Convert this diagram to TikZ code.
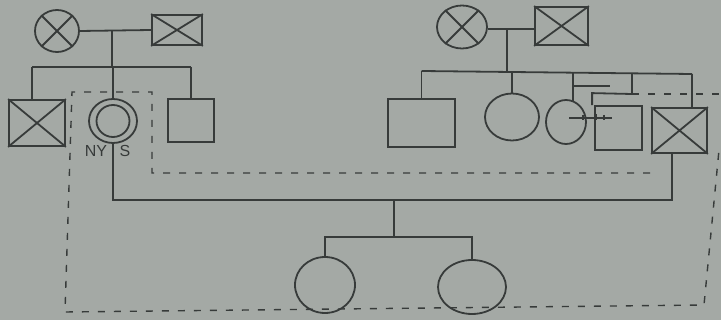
\documentclass[tikz,border=0pt]{standalone}
\usepackage{fontspec}
\setmainfont{Liberation Sans}
\usetikzlibrary{shapes.geometric}
\definecolor{paper}{RGB}{164,169,165}
\definecolor{ink}{RGB}{55,59,58}
\begin{document}
\begin{tikzpicture}[x=1pt,y=-1pt,
  ink/.style={draw=ink,line width=1.8pt},
  male/.style={ink,rectangle,inner sep=0pt,minimum width=#1},
  fem/.style={ink,ellipse,inner sep=0pt},
  dsh/.style={draw=ink,line width=1.4pt,dash pattern=on 7pt off 9pt},
  lab/.style={text=ink,font=\fontsize{16}{16}\selectfont,inner sep=0pt}]
\fill[paper] (0,0) rectangle (721,320);
\useasboundingbox (0,0) rectangle (721,320);

% ---------- left family ----------
\node[fem,minimum width=44pt,minimum height=42pt] (lgm) at (57,31) {};
\node[male=50pt,minimum height=30pt] (lgf) at (177,30) {};
\draw[ink] (lgm.45)--(lgm.225) (lgm.135)--(lgm.315);
\draw[ink] (lgf.north west)--(lgf.south east) (lgf.north east)--(lgf.south west);
\coordinate (lm) at (112,31);
\coordinate (ls) at (112,67);
\draw[ink] (lgm.east)--(lgf.west);
\draw[ink] (lm)--(ls);

\node[male=56pt,minimum height=46pt] (lc1) at (37,123) {};
\draw[ink] (lc1.north east)--(lc1.south west) (lc1.north west)--(lc1.south east);
\node[fem,minimum width=48pt,minimum height=44pt] (lc2) at (113,121) {};
\node[fem,minimum width=33pt,minimum height=32pt] (lc2i) at (113,121) {};
\node[male=46pt,minimum height=43pt] (lc3) at (191,120.5) {};
\coordinate (lsl) at (32,67);
\coordinate (lsr) at (191,67);
\draw[ink] (lsl)--(lsr);
\draw[ink] (lsl)--(lsl|-lc1.north);
\draw[ink] (lc2.north)--(lc2.north|-ls);
\draw[ink] (lsr)--(lc3.north);
\node[lab] (ny) at (96,151) {NY};
\node[lab] (s) at (125,151) {S};

% ---------- right family ----------
\node[fem,minimum width=50pt,minimum height=43pt] (rgm) at (462,27) {};
\node[male=53pt,minimum height=38pt] (rgf) at (561.5,26) {};
\draw[ink] (rgm.45)--(rgm.225) (rgm.135)--(rgm.315);
\draw[ink] (rgf.north west)--(rgf.south east) (rgf.north east)--(rgf.south west);
\draw[ink] (rgm.east|-0,29)--(rgf.west|-0,29);
\coordinate (rm) at (507,29);
\coordinate (rs) at (507,72);
\draw[ink] (rm)--(rs);

\node[male=67pt,minimum height=48pt] (rc1) at (421.5,123) {};
\node[fem,minimum width=54pt,minimum height=47pt] (rc2) at (512,117) {};
\node[fem,minimum width=40pt,minimum height=44pt] (rc3) at (566,122) {};
\node[male=47pt,minimum height=44pt] (rc4) at (618.5,128) {};
\node[male=55pt,minimum height=45pt] (rc5) at (679.5,130.5) {};
\draw[ink] (rc5.north east)--(rc5.south west) (rc5.north west)--(rc5.south east);
\coordinate (rsl) at (421.5,71);
\coordinate (rsr) at (692,74);
\draw[ink] (rsl)--(rsr);
\draw[ink] (rsl)--(rc1.north);
\draw[ink] (rc2.north)--(rc2.north|-rs);
\draw[ink] (573,73)--(573,101);
\draw[ink] (573,86)--(610,86);
\draw[ink] (632,73)--(632,94);
\draw[ink] (rc4.north west)++(-2,0)--++(0,-12)--(632,94);
\draw[ink] (rsr)--(rsr|-rc5.north);
\draw[ink,line width=1.3pt] (569,118)--(612,118);
\draw[ink,line width=1.2pt] (583,115)--(583,120) (596,114)--(596,120) (604,115)--(604,120);

% ---------- union and children ----------
\coordinate (ul) at (113,200);
\coordinate (ur) at (672,200);
\coordinate (uc) at (394,200);
\draw[ink] (lc2.south)--(ul)--(ur)--(ur|-rc5.south);
\coordinate (kc) at (394,237);
\node[fem,minimum width=60pt,minimum height=56pt] (k1) at (325,285) {};
\node[fem,minimum width=68pt,minimum height=54pt] (k2) at (472,287) {};
\draw[ink] (uc)--(kc);
\draw[ink] (k1.north)--(k1.north|-kc)--(k2.north|-kc)--(k2.north);

% ---------- dashed household boundary ----------
\draw[dsh] (650,173)--(152,173)--(152,92)--(72,92)--(65,312)--(704,305)--(719,150);
\draw[dsh] (632,94)--(721,94);
\end{tikzpicture}
\end{document}
